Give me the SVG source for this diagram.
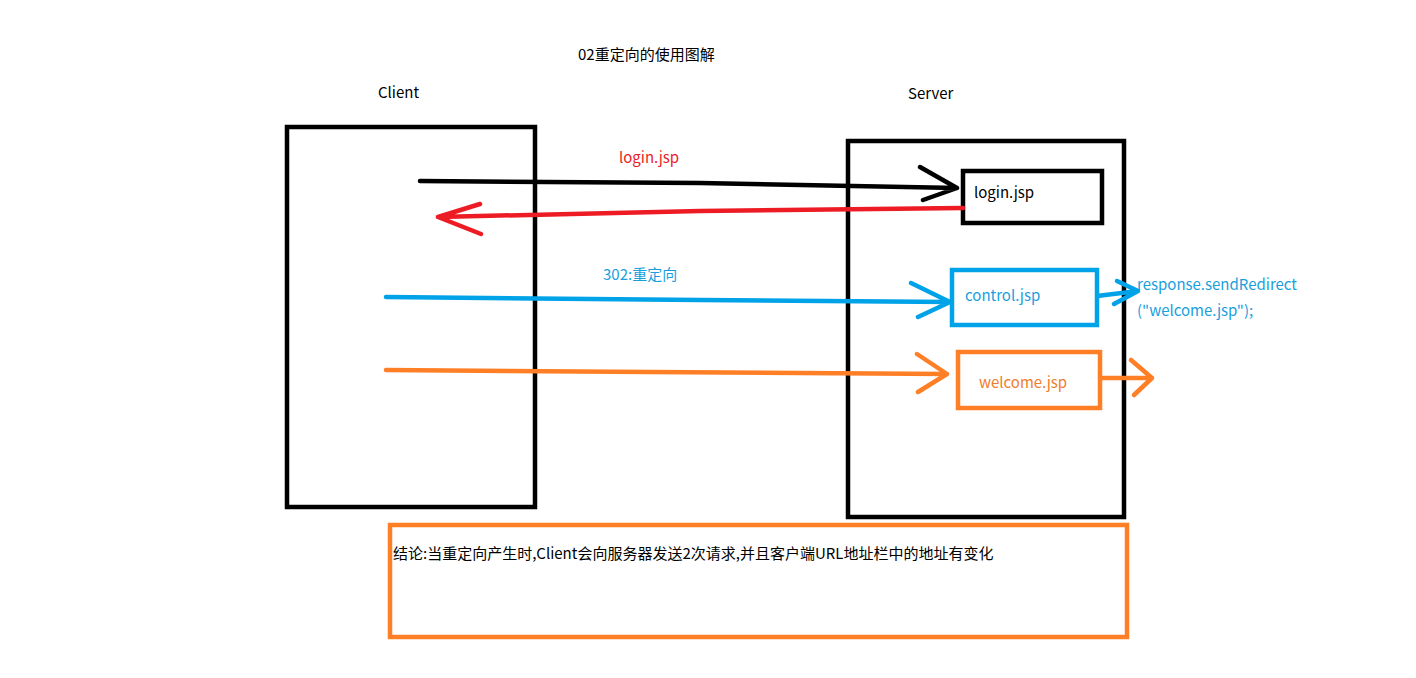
<svg xmlns="http://www.w3.org/2000/svg" width="1416" height="678" viewBox="0 0 1416 678">
<style>
text{font-family:"Noto Sans CJK SC","Microsoft YaHei",sans-serif;font-size:15px;fill:#000}
.box{fill:none;stroke-width:4.5}
.ln{fill:none;stroke-width:4.5;stroke-linecap:round;stroke-linejoin:round}
.k{stroke:#000}.r{stroke:#ed1c24}.b{stroke:#00a2e8}.o{stroke:#ff7f27}
.tr{fill:#ed1c24}.tb{fill:#1a9fdc}.to{fill:#f07d2c}
</style>
<rect width="1416" height="678" fill="#fff"/>
<text x="578" y="60">02重定向的使用图解</text>
<text x="378" y="98">Client</text>
<text x="908" y="99">Server</text>
<g id="client"><rect class="box k" x="287" y="127" width="248" height="380"/></g>
<g id="server"><rect class="box k" x="848" y="141" width="276" height="376"/></g>
<g id="login"><rect class="box k" x="963" y="171" width="139" height="52"/><text x="974" y="198">login.jsp</text></g>
<g id="control"><rect class="box b" x="952" y="270" width="145" height="55"/><text class="tb" x="965" y="301">control.jsp</text></g>
<g id="welcome"><rect class="box o" x="958" y="352" width="142" height="56"/><text class="to" x="979" y="388">welcome.jsp</text></g>
<g id="redirect"><text class="tb" x="1137" y="290">response.sendRedirect</text><text class="tb" x="1137" y="316">("welcome.jsp");</text></g>
<g id="conclusion"><rect class="box o" x="390" y="525" width="737" height="112"/><text x="393" y="559">结论:当重定向产生时,Client会向服务器发送2次请求,并且客户端URL地址栏中的地址有变化</text></g>
<g id="connectors">
<path class="ln k" d="M420 181 L700 183 L957 188 M920 167 L957 188 L923 200"/>
<path class="ln r" d="M963 208 L700 211 L438 217 M480 204 L438 217 L481 234"/>
<text class="tr" x="619" y="163">login.jsp</text>
<path class="ln b" d="M386 297 L700 300 L950 302 M911 283 L950 302 L918 317"/>
<text class="tb" x="603" y="280">302:重定向</text>
<path class="ln b" d="M1097 296 L1138 291 M1117 281 L1138 291 L1114 304"/>
<path class="ln o" d="M386 370 L650 372 L947 374 M917 354 L947 374 L918 392"/>
<path class="ln o" d="M1100 378 L1152 378 M1131 360 L1152 378 L1134 395"/>
</g>
</svg>
